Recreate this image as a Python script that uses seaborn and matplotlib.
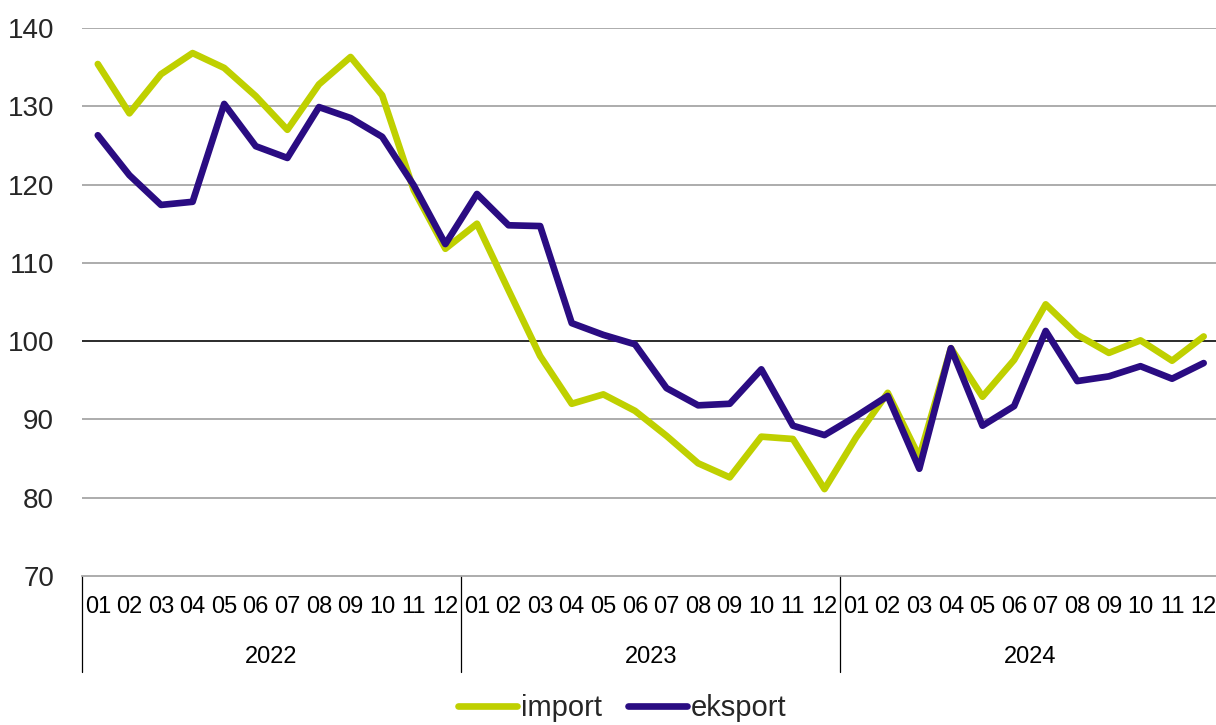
import matplotlib
matplotlib.use("Agg")
import matplotlib.pyplot as plt
import seaborn as sns
import pandas as pd

years = ["2022", "2023", "2024"]
months = ["01", "02", "03", "04", "05", "06", "07", "08", "09", "10", "11", "12"]

import_vals = [
    135.4, 129.1, 134.1, 136.8, 134.9, 131.3, 127.0, 132.8, 136.3, 131.4, 119.3, 111.8,
    115.0, 106.5, 98.1, 92.0, 93.2, 91.1, 87.9, 84.4, 82.6, 87.8, 87.5, 81.1,
    87.7, 93.4, 85.2, 99.1, 92.9, 97.6, 104.7, 100.8, 98.5, 100.1, 97.5, 100.6,
]
eksport_vals = [
    126.3, 121.2, 117.4, 117.8, 130.3, 124.9, 123.4, 129.9, 128.5, 126.1, 119.9, 112.4,
    118.8, 114.8, 114.7, 102.3, 100.8, 99.6, 94.0, 91.8, 92.0, 96.4, 89.2, 88.0,
    90.4, 93.0, 83.7, 99.1, 89.2, 91.7, 101.3, 94.9, 95.5, 96.8, 95.2, 97.2,
]

series_names = ["import", "eksport"]
series_colors = ["#bfd000", "#2a0c82"]

sns.set_style("white")
plt.rcParams["font.family"] = ["Liberation Sans", "DejaVu Sans"]

n = len(import_vals)
df = pd.DataFrame({
    "idx": list(range(n)) * 2,
    "value": import_vals + eksport_vals,
    "series": ["import"] * n + ["eksport"] * n,
})

W, H = 1216, 725
fig = plt.figure(figsize=(W / 100, H / 100), dpi=100)
left, right, top, bottom = 82, 1216, 28, 576
ax = fig.add_axes([left / W, 1 - bottom / H, (right - left) / W, (bottom - top) / H])

sns.lineplot(data=df, x="idx", y="value", hue="series", hue_order=series_names,
             palette=series_colors, linewidth=4.8, ax=ax, legend=False, zorder=3)

ax.set_ylim(70, 140)
ax.set_xlim(-0.5, 35.39)

# horizontal gridlines; the 100 reference line is drawn in black
for v in range(80, 141, 10):
    ax.axhline(v, color="#1a1a1a" if v == 100 else "#a6a6a6", linewidth=1.3, zorder=1)

for s in ["top", "right", "left"]:
    ax.spines[s].set_visible(False)
ax.spines["bottom"].set_color("#a6a6a6")
ax.spines["bottom"].set_linewidth(1.3)

ax.set_yticks(range(70, 141, 10))
ax.set_yticklabels([str(v) for v in range(70, 141, 10)], fontsize=20)
ax.tick_params(axis="y", length=0, pad=20)
ax.set_xticks([])
ax.set_xlabel("")
ax.set_ylabel("")

# two-level category axis: months, then years with separators
trans = ax.get_xaxis_transform()
ph = bottom - top
for k, yr in enumerate(years):
    for j, m in enumerate(months):
        ax.text(k * 12 + j, -31 / ph, m, transform=trans, ha="center", va="center",
                fontsize=17, color="black")
    ax.text(k * 12 + 5.5, -81 / ph, yr, transform=trans, ha="center", va="center",
            fontsize=17, color="black")
    ax.plot([k * 12 - 0.5, k * 12 - 0.5], [0, -96 / ph], transform=trans,
            color="black", linewidth=0.9, clip_on=False)

handles = [plt.Line2D([], [], color=c, linewidth=4.8, solid_capstyle="round") for c in series_colors]
fig.legend(handles, series_names, loc="center", bbox_to_anchor=(0.512, 1 - 708 / H),
           ncol=2, frameon=False, fontsize=21, handlelength=2.0, handletextpad=0.15,
           columnspacing=0.9)

fig.savefig("out.png", dpi=100)
